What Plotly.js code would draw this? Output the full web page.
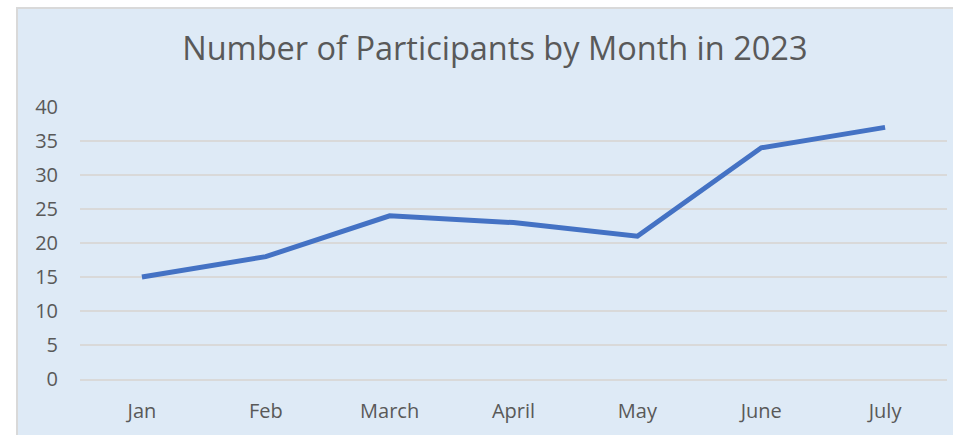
<!DOCTYPE html>
<html>
<head>
<meta charset="utf-8">
<script src="https://cdn.plot.ly/plotly-3.0.1.min.js"></script>
<style>
html,body{margin:0;padding:0;background:#ffffff;width:953px;height:435px;overflow:hidden;}
#frame{position:absolute;left:16px;top:7px;width:937px;height:428px;border-left:2px solid #d9d9d9;border-top:2px solid #d9d9d9;background:#deeaf6;}
#chart{width:935px;height:426px;}
</style>
</head>
<body>
<div id="frame"><div id="chart"></div></div>
<script>
const months = ["Jan", "Feb", "March", "April", "May", "June", "July"];
const participants = [15, 18, 24, 23, 21, 34, 37];
const yTicks = [0, 5, 10, 15, 20, 25, 30, 35, 40];

const trace = {
  x: months,
  y: participants,
  type: "scatter",
  mode: "lines",
  line: {color: "#4472c4", width: 5, shape: "linear"},
  hoverinfo: "x+y"
};

const layout = {
  width: 935,
  height: 426,
  paper_bgcolor: "#deeaf6",
  plot_bgcolor: "#deeaf6",
  margin: {l: 62, r: 6, t: 98, b: 56},
  showlegend: false,
  title: {
    text: "Number of Participants by Month in 2023",
    font: {family: "Open Sans, sans-serif", size: 32.5, color: "#595959"},
    x: 0.51,
    xanchor: "center",
    y: 1 - 40/426,
    yanchor: "middle"
  },
  xaxis: {
    type: "category",
    range: [-0.5, 6.5],
    showgrid: false,
    zeroline: false,
    showline: true,
    linecolor: "#d9d9d9",
    linewidth: 2,
    ticks: "",
    ticklabelstandoff: 13,
    tickfont: {family: "Open Sans, sans-serif", size: 20, color: "#595959"},
    fixedrange: true
  },
  yaxis: {
    range: [0, 40],
    tickvals: yTicks,
    ticktext: yTicks.map(String),
    showgrid: true,
    gridcolor: "#d9d9d9",
    gridwidth: 2,
    zeroline: false,
    showline: false,
    ticks: "",
    ticklabelstandoff: 21,
    tickfont: {family: "Open Sans, sans-serif", size: 20, color: "#595959"},
    fixedrange: true
  }
};

Plotly.newPlot("chart", [trace], layout, {displayModeBar: false});
</script>
</body>
</html>
